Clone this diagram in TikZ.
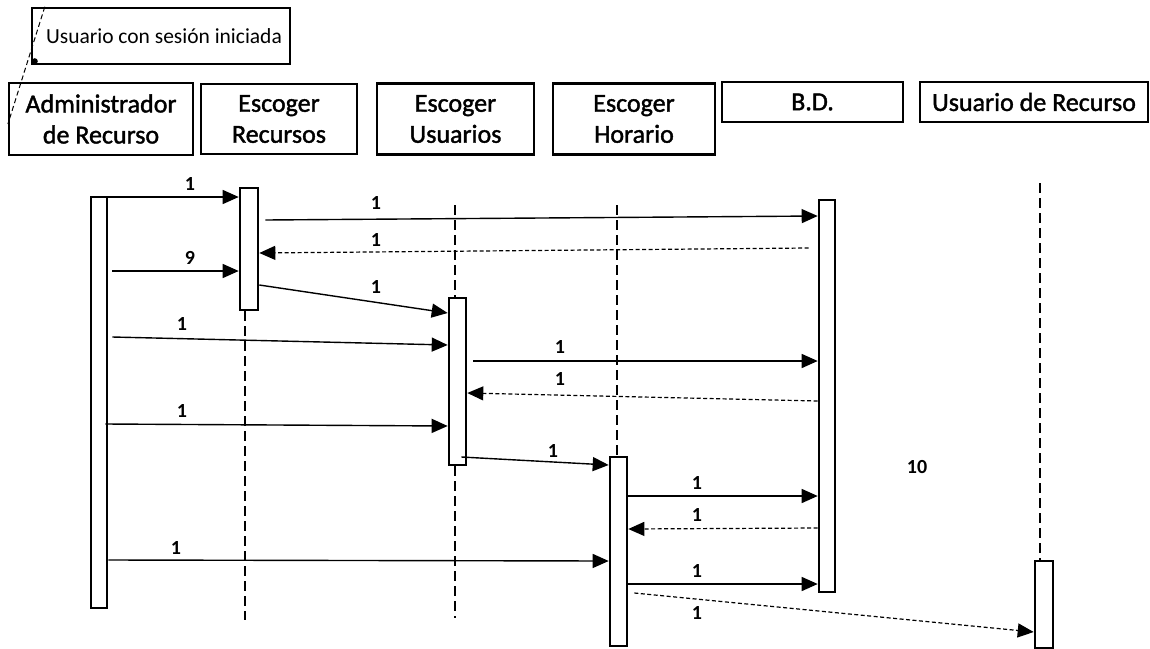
\documentclass[tikz,border=0pt]{standalone}
\usepackage{fontspec}
\setmainfont{Carlito}
\newfontfamily\heavyfont{Carlito}[FakeBold=1.5]
\usetikzlibrary{arrows.meta}
\begin{document}
\begin{tikzpicture}[x=1pt,y=-1pt,
  head/.style={draw, line width=2.2pt, align=center, inner sep=0pt,
    font=\heavyfont\fontsize{26}{31}\selectfont},
  notebox/.style={draw, line width=2.4pt, inner sep=0pt, minimum width=258pt,
    minimum height=56pt, font=\fontsize{21.5}{26}\selectfont},
  act/.style={draw, line width=2.6pt, fill=white, inner sep=0pt},
  life/.style={line width=1.2pt, dash pattern=on 10pt off 5pt},
  msg/.style={line width=1.4pt, -{Triangle[length=16pt,width=14pt]}},
  ret/.style={line width=1.2pt, dash pattern=on 4pt off 2.5pt, -{Triangle[length=16pt,width=14pt]}},
  lbl/.style={font=\fontsize{20}{24}\selectfont\bfseries, inner sep=0pt}
]
\useasboundingbox (0,0) rectangle (1150,648);

% note and header boxes
\node[notebox] (note) at (161,36) {\hspace*{6pt}Usuario con sesión iniciada};
\fill ([xshift=4pt,yshift=4pt]note.south west) circle (3pt);

\node[head, minimum width=184pt, minimum height=72pt] (hAdm) at (101,119) {Administrador\\de Recurso};
\node[head, minimum width=156pt, minimum height=70pt] (hRec) at (279,119) {Escoger\\Recursos};
\node[head, minimum width=157pt, minimum height=71pt] (hUsu) at (455.5,119) {Escoger\\Usuarios};
\node[head, minimum width=162pt, minimum height=71pt] (hHor) at (634,119) {Escoger\\Horario};
\node[head, minimum width=181pt, minimum height=40pt] (hBD) at (812.5,102) {B.D.};
\node[head, minimum width=228pt, minimum height=40pt] (hUdR) at (1034,102) {Usuario de Recurso};

\draw[line width=1pt, dash pattern=on 5pt off 3pt] ([xshift=14pt]note.north west) -- (hAdm.west |- 0,124);

% lifelines
\coordinate (lUsuTop) at (455,205);
\coordinate (lHorTop) at (617,205);
\coordinate (lUdRTop) at (1040,183);
\coordinate (lRecEnd) at (245,620);
\coordinate (lUsuEnd) at (455,618);

% activation bars
\node[act, minimum width=16pt, minimum height=411pt] (aAdm) at (99,402.5) {};
\node[act, minimum width=18pt, minimum height=122pt] (aRec) at (249,249) {};
\node[act, minimum width=17pt, minimum height=167pt] (aUsu) at (457.5,381.5) {};
\node[act, minimum width=17pt, minimum height=189pt] (aHor) at (618.5,551.5) {};
\node[act, minimum width=16pt, minimum height=392pt] (aBD) at (827,396) {};
\node[act, minimum width=18pt, minimum height=87pt] (aUdR) at (1044,604.5) {};

\draw[life] (aRec.south -| lRecEnd) -- (lRecEnd);
\draw[life] (lUsuTop) -- (aUsu.north -| lUsuTop);
\draw[life] (aUsu.south -| lUsuEnd) -- (lUsuEnd);
\draw[life] (lHorTop) -- (aHor.north -| lHorTop);
\draw[life] (lUdRTop) -- (aUdR.north -| lUdRTop);

% messages
\draw[msg] (aAdm.east |- 0,197) -- (aRec.west |- 0,197);
\draw[msg] ([xshift=6pt]aRec.east |- 0,220) -- (aBD.west |- 0,216);
\draw[ret] ([xshift=-9pt]aBD.west |- 0,248) -- (aRec.east |- 0,253);
\draw[msg] ([xshift=4pt]aAdm.east |- 0,271) -- (aRec.west |- 0,271);
\draw[msg] (aRec.east |- 0,285) -- (aUsu.west |- 0,313);
\draw[msg] ([xshift=4pt]aAdm.east |- 0,337) -- (aUsu.west |- 0,345);
\draw[msg] ([xshift=6pt]aUsu.east |- 0,361) -- (aBD.west |- 0,361);
\draw[ret] (aBD.west |- 0,401) -- (aUsu.east |- 0,393);
\draw[msg] ([xshift=-3pt]aAdm.east |- 0,424) -- (aUsu.west |- 0,426);
\draw[msg] ([xshift=-6pt]aUsu.east |- 0,457) -- (aHor.west |- 0,465);
\draw[msg] (aHor.east |- 0,496) -- (aBD.west |- 0,496);
\draw[ret] (aBD.west |- 0,528) -- (aHor.east |- 0,529);
\draw[msg] (aAdm.east |- 0,560) -- (aHor.west |- 0,561);
\draw[msg] (aHor.east |- 0,584) -- (aBD.west |- 0,584);
\draw[ret] ([xshift=6pt]aHor.east |- 0,593) -- (aUdR.west |- 0,632);

% message labels
\node[lbl] (t1) at (190,184) {1};
\node[lbl] (t2) at (376,203) {1};
\node[lbl] (t3) at (376,240) {1};
\node[lbl] (t4) at (190,258) {9};
\node[lbl] (t5) at (376,287) {1};
\node[lbl] (t6) at (182,324) {1};
\node[lbl] (t7) at (560,347) {1};
\node[lbl] (t8) at (560,379) {1};
\node[lbl] (t9) at (182,411) {1};
\node[lbl] (t10) at (553,451) {1};
\node[lbl] (t11) at (697,483) {1};
\node[lbl] (t12) at (697,515) {1};
\node[lbl] (t13) at (176,548) {1};
\node[lbl] (t14) at (697,571) {1};
\node[lbl] (t15) at (697,613) {1};
\node[lbl] (t16) at (917,467) {10};
\end{tikzpicture}
\end{document}
